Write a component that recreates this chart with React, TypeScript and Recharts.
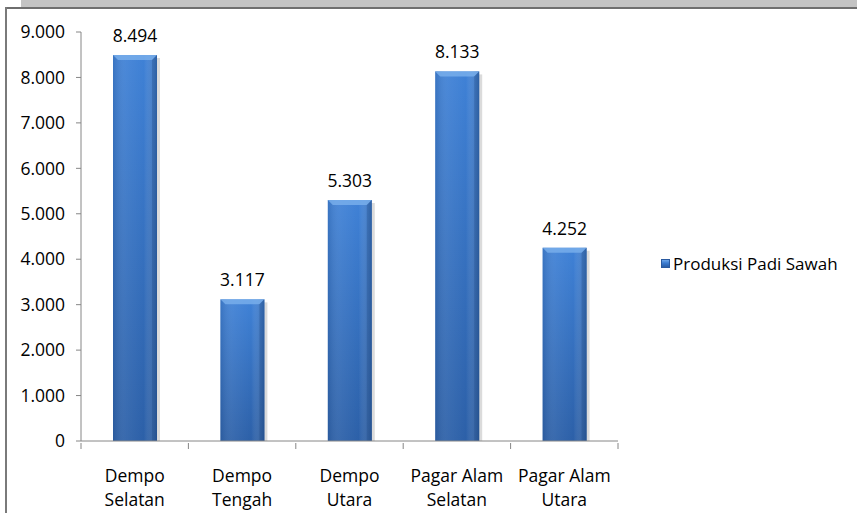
import React from 'react';
import { BarChart, Bar, XAxis, YAxis, LabelList } from 'recharts';

const kecamatan = ['Dempo Selatan', 'Dempo Tengah', 'Dempo Utara', 'Pagar Alam Selatan', 'Pagar Alam Utara'];
const xLines = [
  ['Dempo', 'Selatan'],
  ['Dempo', 'Tengah'],
  ['Dempo', 'Utara'],
  ['Pagar Alam', 'Selatan'],
  ['Pagar Alam', 'Utara'],
];
const produksi = [8494, 3117, 5303, 8133, 4252];
const yTicks = [0, 1000, 2000, 3000, 4000, 5000, 6000, 7000, 8000, 9000];
const seriesName = 'Produksi Padi Sawah';

const data = kecamatan.map((k, i) => ({ name: k, value: produksi[i] }));

const FONT = '"Open Sans", "Noto Sans", sans-serif';
const W = 857;
const H = 513;
const M = { top: 32, right: 239, left: 21, bottom: 12 };
const Y_W = 60;
const BAND = (W - M.left - Y_W - M.right) / kecamatan.length;

// 9000 -> "9.000"
const fmt = (v: number) => String(v).replace(/\B(?=(\d{3})+(?!\d))/g, '.');

const CylBar = (props: any) => {
  const { x, y, width, height } = props;
  if (!height || height <= 0) return null;
  const b = Math.min(5, height / 2);
  return (
    <g>
      <rect x={x + 3} y={y + 3} width={width} height={height - 3} fill="rgba(0,0,0,0.14)" />
      <rect x={x} y={y} width={width} height={height} fill="url(#barBody)" />
      <rect x={x} y={y} width={width} height={height} fill="url(#barEdge)" />
      <polygon
        points={`${x},${y} ${x + width},${y} ${x + width - b},${y + b} ${x + b},${y + b}`}
        fill="#7ab0ec"
        opacity={0.8}
      />
      <polygon
        points={`${x + width},${y} ${x + width - b},${y + b} ${x + width - b},${y + height} ${x + width},${y + height}`}
        fill="#1f4a86"
        opacity={0.3}
      />
    </g>
  );
};

const CategoryTick = (props: any) => {
  const { x, y, index } = props;
  const lines = xLines[index] || [];
  const axisY = y - 8;
  return (
    <g>
      {index === 0 && (
        <line x1={x - BAND / 2} x2={x - BAND / 2} y1={axisY} y2={axisY + 6} stroke="#868686" />
      )}
      <line x1={x + BAND / 2} x2={x + BAND / 2} y1={axisY} y2={axisY + 6} stroke="#868686" />
      {lines.map((t: string, i: number) => (
        <text
          key={i}
          x={x}
          y={y + 31 + i * 24}
          textAnchor="middle"
          fontSize={17.5}
          fontFamily={FONT}
          fill="#000"
        >
          {t}
        </text>
      ))}
    </g>
  );
};

export default function App() {
  return (
    <div style={{ position: 'absolute', left: 0, top: 0, width: W, height: H, background: '#fff', fontFamily: FONT }}>
      {/* frame bits from the source screenshot */}
      <div style={{ position: 'absolute', left: 21, top: 0, width: 836, height: 7, background: '#c3c3c3' }} />
      <div style={{ position: 'absolute', left: 5, top: 7, width: 852, height: 2, background: '#6e6e6e' }} />
      <div style={{ position: 'absolute', left: 5, top: 7, width: 2, height: 506, background: '#7a7a7a' }} />

      <BarChart
        width={W}
        height={H}
        data={data}
        margin={M}
        style={{ position: 'absolute', left: 0, top: 0 }}
      >
        <defs>
          <linearGradient id="barBody" x1="0" y1="0" x2="0" y2="1">
            <stop offset="0%" stopColor="#3f81d6" />
            <stop offset="100%" stopColor="#2c60a8" />
          </linearGradient>
          <linearGradient id="barEdge" x1="0" y1="0" x2="1" y2="0">
            <stop offset="0%" stopColor="#1d3f70" stopOpacity={0.2} />
            <stop offset="30%" stopColor="#ffffff" stopOpacity={0.06} />
            <stop offset="70%" stopColor="#ffffff" stopOpacity={0} />
            <stop offset="100%" stopColor="#1d3f70" stopOpacity={0.35} />
          </linearGradient>
        </defs>
        <XAxis
          dataKey="name"
          height={60}
          interval={0}
          axisLine={{ stroke: '#868686' }}
          tickLine={false}
          tickSize={8}
          tick={<CategoryTick />}
        />
        <YAxis
          domain={[0, 9000]}
          ticks={yTicks}
          width={Y_W}
          tickFormatter={fmt}
          tickSize={5}
          tickMargin={11}
          axisLine={{ stroke: '#868686' }}
          tickLine={{ stroke: '#868686' }}
          tick={{ fontSize: 17.5, fontFamily: FONT, fill: '#000' }}
          interval={0}
        />
        <Bar
          dataKey="value"
          name={seriesName}
          barSize={44}
          shape={<CylBar />}
          isAnimationActive={false}
        >
          <LabelList
            dataKey="value"
            position="top"
            offset={13}
            formatter={(v: any) => fmt(Number(v))}
            style={{ fontSize: 17.5, fontFamily: FONT, fill: '#000' }}
          />
        </Bar>
      </BarChart>

      {/* legend */}
      <div style={{ position: 'absolute', left: 661, top: 252, display: 'flex', alignItems: 'center', fontSize: 17, color: '#000', whiteSpace: 'nowrap' }}>
        <div
          style={{
            width: 9,
            height: 9,
            marginRight: 3,
            background: 'linear-gradient(180deg, #6ea6e8 0%, #3a7bd0 45%, #2a5da5 100%)',
            border: '1px solid #2a5aa0',
            boxSizing: 'border-box',
          }}
        />
        <span>{seriesName}</span>
      </div>
    </div>
  );
}
